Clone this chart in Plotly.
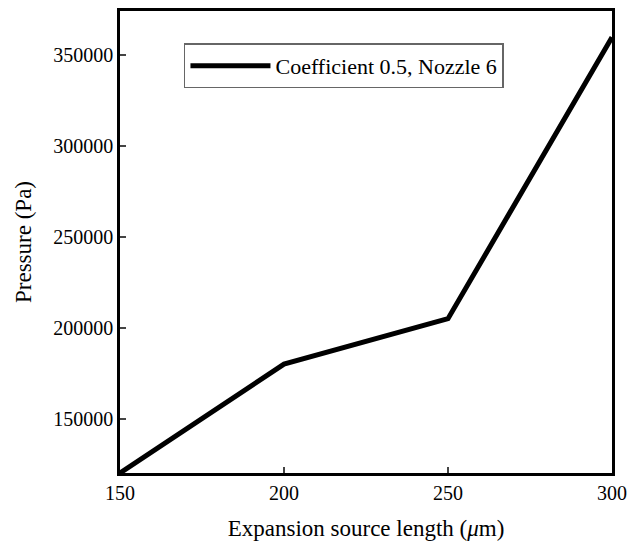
import plotly.graph_objects as go

lengths = [150, 200, 250, 300]
pressure = [120000, 180000, 205000, 360000]
series_name = "Coefficient 0.5, Nozzle 6"
x_ticks = [150, 200, 250, 300]
y_ticks = [150000, 200000, 250000, 300000, 350000]

FONT = "Liberation Serif"

fig = go.Figure()
fig.add_trace(go.Scatter(x=lengths, y=pressure, mode="lines", name=series_name,
                         line=dict(color="black", width=5), showlegend=True))

fig.update_layout(
    width=633, height=541,
    margin=dict(l=120, r=21, t=11, b=68),
    paper_bgcolor="white", plot_bgcolor="white",
    font=dict(family=FONT, size=19, color="black"),
    showlegend=True,
    legend=dict(x=0.13, y=0.93, xanchor="left", yanchor="top",
                bordercolor="#666", borderwidth=1.5, bgcolor="white",
                font=dict(family=FONT, size=22), itemwidth=80),
    xaxis=dict(range=[150, 300], tickvals=x_ticks, ticktext=[str(v) for v in x_ticks],
               ticks="inside", ticklen=6, tickwidth=2,
               showline=True, linewidth=2.5, linecolor="black", mirror=True,
               showgrid=False, zeroline=False, automargin=False,
               tickfont=dict(size=20),
               title=dict(text="Expansion source length (<i>μ</i>m)", standoff=22)),
    yaxis=dict(range=[120000, 374500], tickvals=y_ticks, ticktext=[str(v) for v in y_ticks],
               ticks="inside", ticklen=6, tickwidth=2,
               showline=True, linewidth=2.5, linecolor="black", mirror=True,
               showgrid=False, zeroline=False, automargin=False,
               tickfont=dict(size=20),
               title=dict(text="Pressure (Pa)", standoff=16)),
)

fig.write_html("out.html")
